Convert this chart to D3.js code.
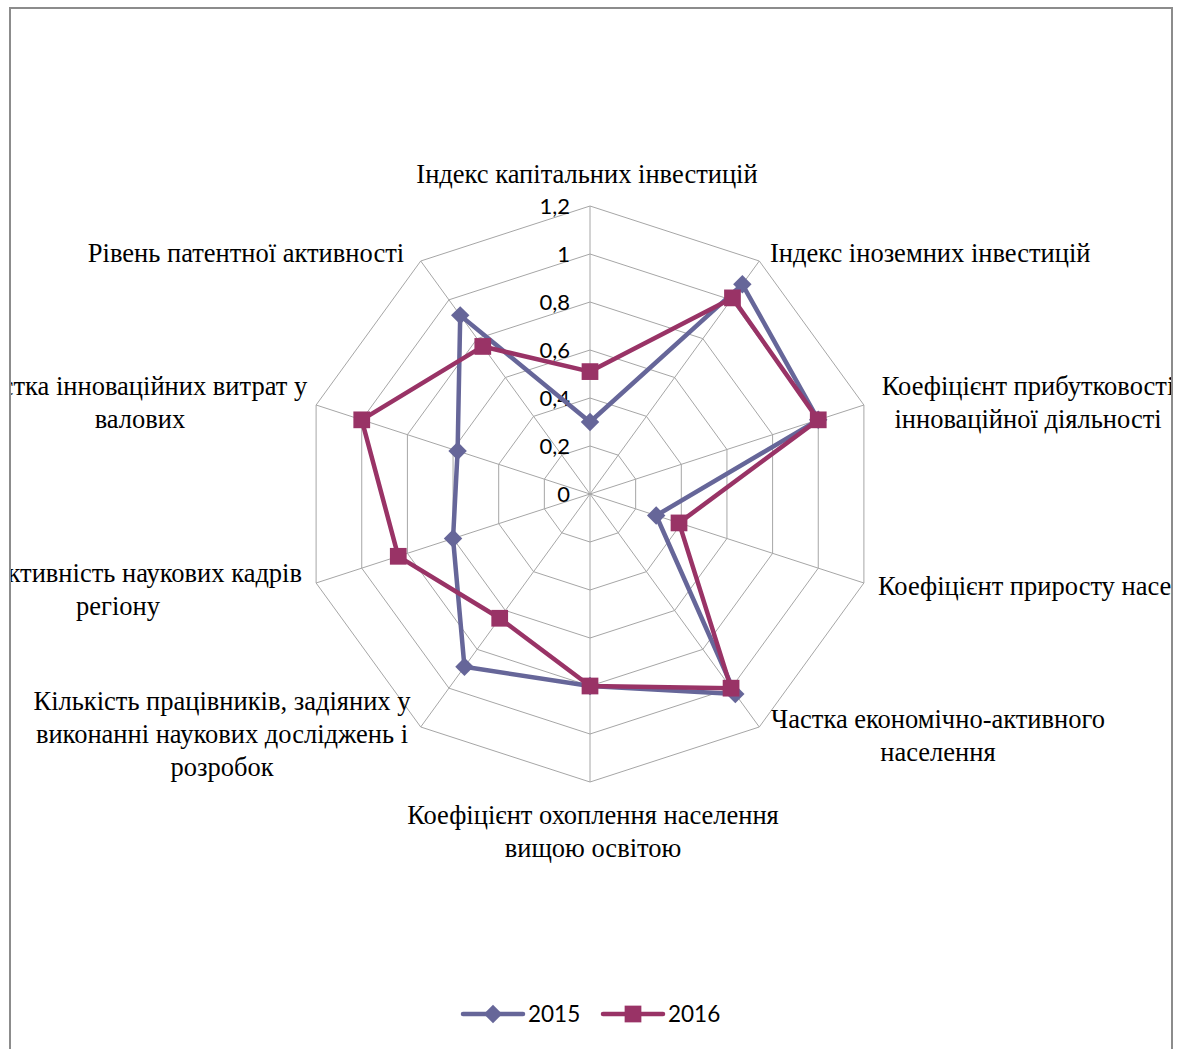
<!DOCTYPE html>
<html>
<head>
<meta charset="utf-8">
<script src="https://cdn.jsdelivr.net/npm/d3@7"></script>
<style>
html,body{margin:0;padding:0;background:#fff;}
svg{display:block;}
</style>
</head>
<body>
<svg id="chart" width="1178" height="1049"></svg>
<script>
// ---- data ----
const categories = [
  ["Індекс капітальних інвестицій"],
  ["Індекс іноземних інвестицій"],
  ["Коефіцієнт прибутковості", "інноваційної діяльності"],
  ["Коефіцієнт приросту населення"],
  ["Частка економічно-активного", "населення"],
  ["Коефіцієнт охоплення населення", "вищою освітою"],
  ["Кількість працівників, задіяних у", "виконанні наукових досліджень і", "розробок"],
  ["Активність наукових кадрів", "регіону"],
  ["Частка інноваційних витрат у", "валових"],
  ["Рівень патентної активності"]
];
const seriesNames = ["2015", "2016"];
const values2015 = [0.30, 1.08, 1.00, 0.29, 1.03, 0.80, 0.89, 0.60, 0.58, 0.92];
const values2016 = [0.51, 1.01, 1.00, 0.39, 1.00, 0.80, 0.64, 0.84, 1.00, 0.76];
const tickValues = [0, 0.2, 0.4, 0.6, 0.8, 1, 1.2];
const tickLabels = ["0", "0,2", "0,4", "0,6", "0,8", "1", "1,2"];

// ---- layout ----
const svg = d3.select("#chart");
const cx = 590, cy = 494;
const rMax = 288;
const colors = ["#666699", "#993366"];
const r = d3.scaleLinear().domain([0, 1.2]).range([0, rMax]);
const n = categories.length;
const angle = d3.scaleLinear().domain([0, n]).range([0, 2 * Math.PI]);
const pt = (i, v) => [cx + r(v) * Math.sin(angle(i)), cy - r(v) * Math.cos(angle(i))];

svg.append("defs").append("clipPath").attr("id", "frameClip")
  .append("rect").attr("x", 10).attr("y", 8).attr("width", 1162).attr("height", 1100);

const g = svg.append("g").attr("clip-path", "url(#frameClip)");

// frame
svg.append("path")
  .attr("d", "M10,1060 L10,8 L1172,8 L1172,1060")
  .attr("fill", "none").attr("stroke", "#8c8c8c").attr("stroke-width", 2);

// grid polygons
const gridLevels = tickValues.slice(1);
g.selectAll("path.grid").data(gridLevels).enter().append("path")
  .attr("class", "grid")
  .attr("d", v => d3.line()(d3.range(n).map(i => pt(i, v))) + "Z")
  .attr("fill", "none").attr("stroke", "#a6a6a6").attr("stroke-width", 1);

// spokes
g.selectAll("line.spoke").data(d3.range(n)).enter().append("line")
  .attr("x1", cx).attr("y1", cy)
  .attr("x2", i => pt(i, 1.2)[0]).attr("y2", i => pt(i, 1.2)[1])
  .attr("stroke", "#a6a6a6").attr("stroke-width", 1);

// tick labels
g.selectAll("text.tick").data(tickValues).enter().append("text")
  .attr("x", cx - 20).attr("y", v => cy - r(v))
  .attr("dy", "0.36em")
  .attr("text-anchor", "end")
  .attr("font-family", "Lato, 'Liberation Sans', sans-serif")
  .attr("font-size", 22).attr("fill", "#000")
  .text((v, i) => tickLabels[i]);

// category labels: anchor (x, first baseline) and alignment
const labelPos = [
  {x: 587, y: 183, a: "middle"},
  {x: 770, y: 262, a: "start"},
  {x: 1028, y: 395, a: "middle"},
  {x: 878, y: 595, a: "start"},
  {x: 938, y: 728, a: "middle"},
  {x: 593, y: 824, a: "middle"},
  {x: 222, y: 710, a: "middle"},
  {x: 118, y: 582, a: "middle", firstEnd: 302},
  {x: 140, y: 395, a: "middle"},
  {x: 246, y: 262, a: "middle"}
];
const lineH = 33;
categories.forEach((lines, i) => {
  const p = labelPos[i];
  lines.forEach((t, k) => {
    let x = p.x, anchor = p.a;
    if (k === 0 && p.firstEnd) { x = p.firstEnd; anchor = "end"; }
    g.append("text")
      .attr("x", x).attr("y", p.y + k * lineH)
      .attr("text-anchor", anchor)
      .attr("font-family", "'Liberation Serif', 'Times New Roman', serif")
      .attr("font-size", 26.5).attr("fill", "#000")
      .text(t);
  });
});

// series
const series = [values2015, values2016];
const markerPath = s => d3.symbol().type(d3.symbolSquare).size(s === 0 ? 170 : 280)();
const markerTf = (s, x, y) => s === 0 ? `translate(${x},${y}) rotate(45)` : `translate(${x},${y})`;
series.forEach((vals, s) => {
  const pts = vals.map((v, i) => pt(i, v));
  g.append("path")
    .attr("d", d3.line()(pts) + "Z")
    .attr("fill", "none").attr("stroke", colors[s])
    .attr("stroke-width", 4.5).attr("stroke-linejoin", "round");
  g.selectAll("path.m" + s).data(pts).enter().append("path")
    .attr("class", "m" + s)
    .attr("d", markerPath(s))
    .attr("transform", d => markerTf(s, d[0], d[1]))
    .attr("fill", colors[s]);
});

// legend
const legendY = 1014;
const legendX = [463, 603];
seriesNames.forEach((name, s) => {
  const lg = svg.append("g");
  lg.append("line").attr("x1", legendX[s]).attr("x2", legendX[s] + 60)
    .attr("y1", legendY).attr("y2", legendY)
    .attr("stroke", colors[s]).attr("stroke-width", 4.5).attr("stroke-linecap", "round");
  lg.append("path")
    .attr("d", markerPath(s))
    .attr("transform", markerTf(s, legendX[s] + 30, legendY))
    .attr("fill", colors[s]);
  lg.append("text").attr("x", legendX[s] + 65).attr("y", legendY).attr("dy", "0.36em")
    .attr("font-family", "Lato, 'Liberation Sans', sans-serif")
    .attr("font-size", 22.5).attr("fill", "#000").text(name);
});
</script>
</body>
</html>
